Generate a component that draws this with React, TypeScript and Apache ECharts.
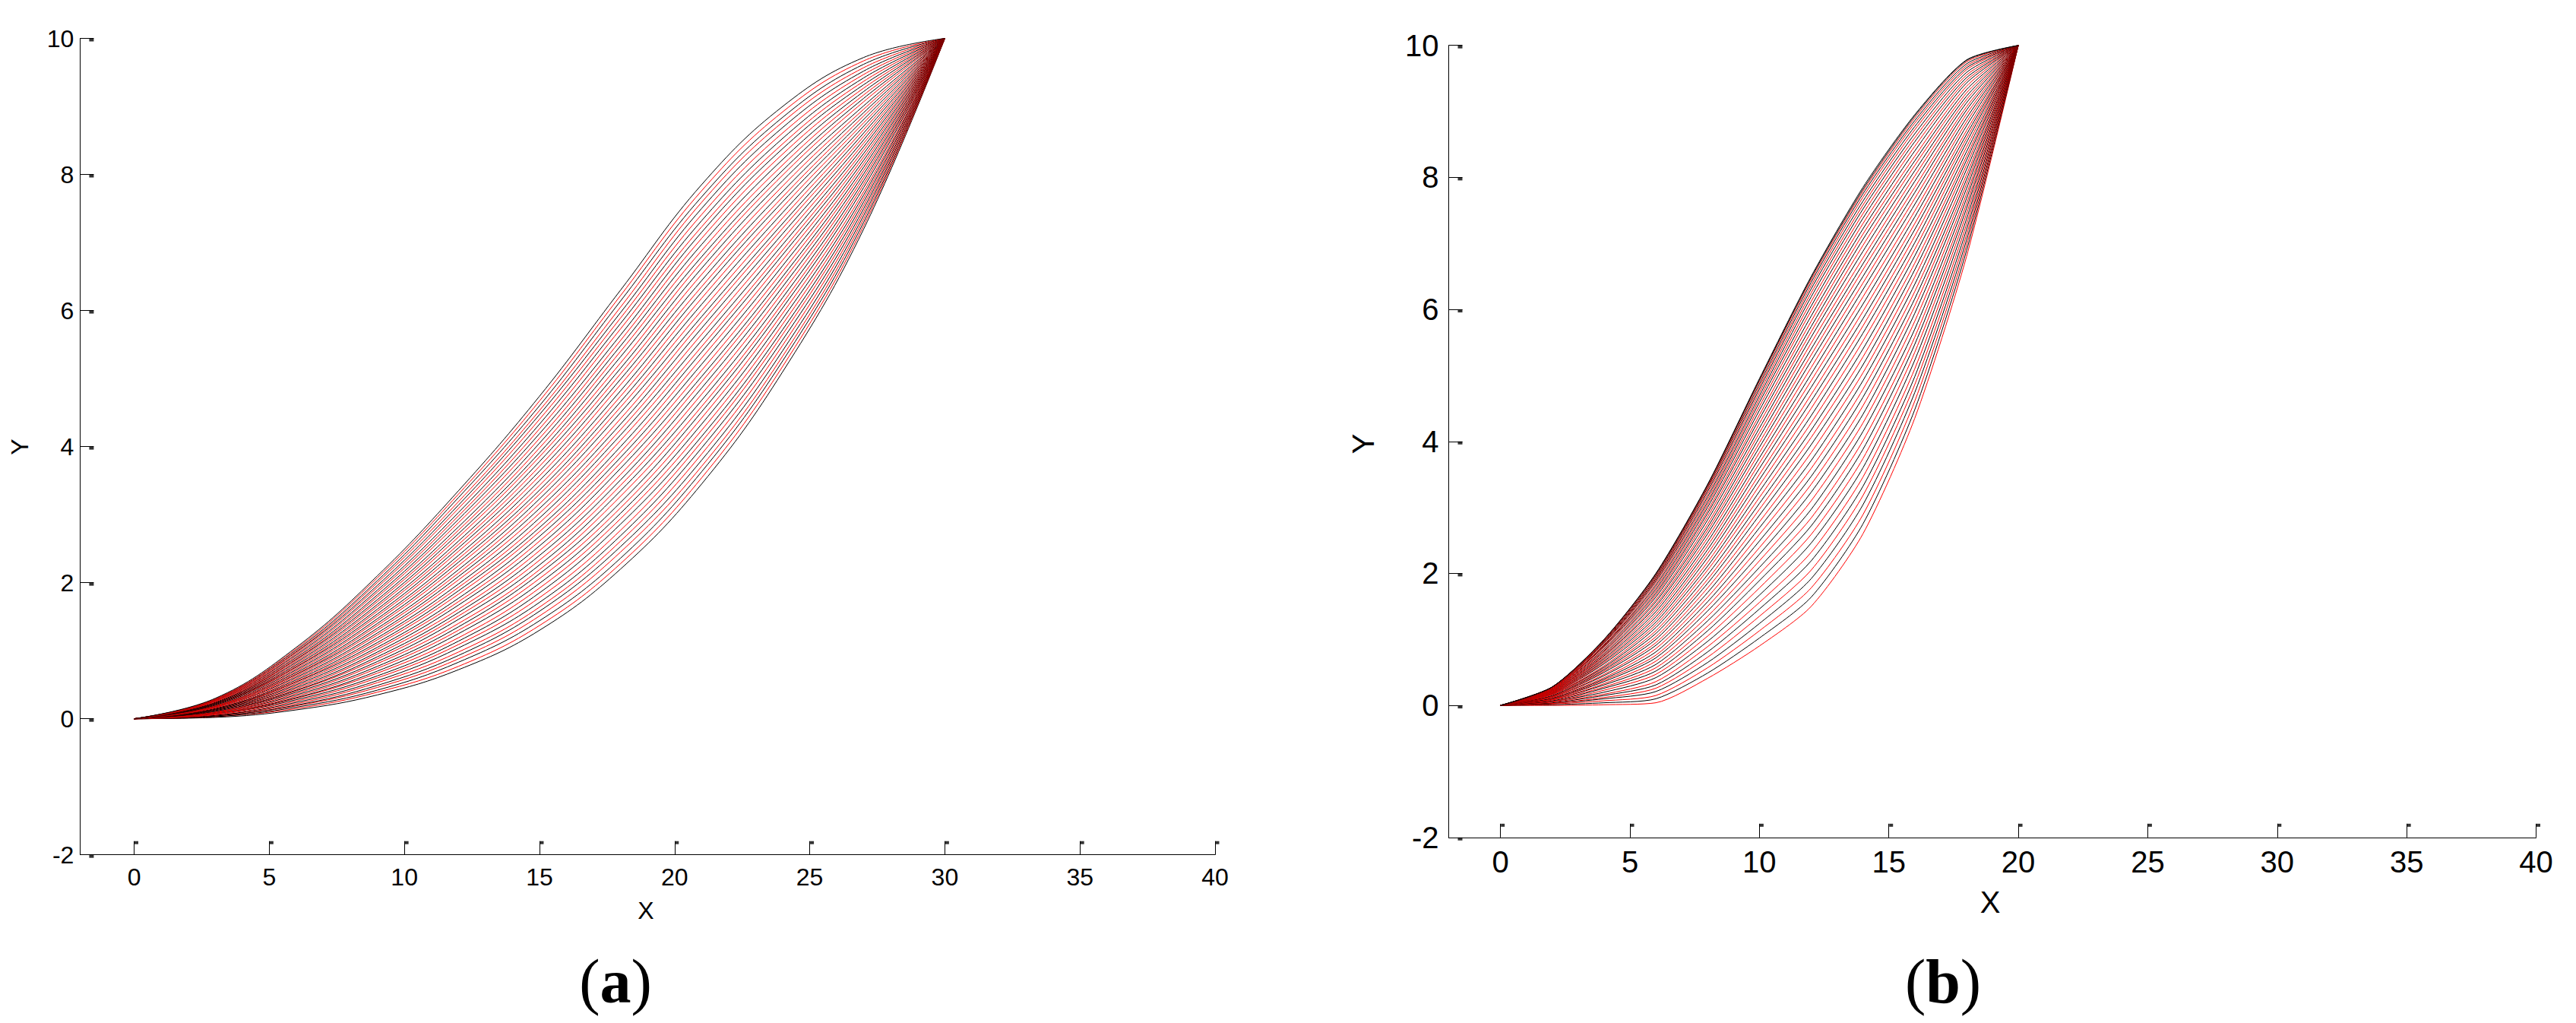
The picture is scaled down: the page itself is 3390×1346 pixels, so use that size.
import React, { useEffect, useRef } from "react";
import * as echarts from "echarts";

// ---------- data ----------
const X_TICKS = [0, 5, 10, 15, 20, 25, 30, 35, 40];
const Y_TICKS = [-2, 0, 2, 4, 6, 8, 10];

// panel (a): curves from (0,0) to (30,10), sampled at these x (lowest curve first)
const X_A = [0, 3, 6, 9, 12, 15, 18, 21, 24, 27, 30];
const CURVES_A = [
  [0, 0.02, 0.13, 0.35, 0.72, 1.30, 2.20, 3.45, 5.10, 7.20, 10],
  [0, 0.03, 0.15, 0.39, 0.77, 1.37, 2.28, 3.54, 5.18, 7.25, 10],
  [0, 0.03, 0.17, 0.42, 0.83, 1.44, 2.36, 3.63, 5.26, 7.30, 10],
  [0, 0.04, 0.19, 0.46, 0.88, 1.51, 2.45, 3.71, 5.33, 7.35, 10],
  [0, 0.04, 0.20, 0.49, 0.93, 1.58, 2.53, 3.80, 5.41, 7.40, 10],
  [0, 0.05, 0.22, 0.53, 0.98, 1.64, 2.61, 3.89, 5.49, 7.45, 10],
  [0, 0.05, 0.24, 0.56, 1.04, 1.71, 2.69, 3.98, 5.57, 7.50, 10],
  [0, 0.06, 0.26, 0.60, 1.09, 1.78, 2.77, 4.07, 5.65, 7.55, 10],
  [0, 0.07, 0.28, 0.63, 1.14, 1.85, 2.86, 4.15, 5.72, 7.60, 10],
  [0, 0.07, 0.30, 0.67, 1.19, 1.92, 2.94, 4.24, 5.80, 7.65, 10],
  [0, 0.08, 0.31, 0.70, 1.25, 1.99, 3.02, 4.33, 5.88, 7.70, 10],
  [0, 0.08, 0.33, 0.74, 1.30, 2.06, 3.10, 4.42, 5.96, 7.75, 10],
  [0, 0.09, 0.35, 0.77, 1.35, 2.13, 3.18, 4.51, 6.04, 7.81, 10],
  [0, 0.09, 0.37, 0.81, 1.40, 2.19, 3.27, 4.59, 6.11, 7.86, 10],
  [0, 0.10, 0.39, 0.84, 1.46, 2.26, 3.35, 4.68, 6.19, 7.91, 10],
  [0, 0.10, 0.41, 0.88, 1.51, 2.33, 3.43, 4.77, 6.27, 7.96, 10],
  [0, 0.11, 0.42, 0.91, 1.56, 2.40, 3.51, 4.86, 6.35, 8.01, 10],
  [0, 0.12, 0.44, 0.95, 1.61, 2.47, 3.59, 4.95, 6.43, 8.06, 10],
  [0, 0.12, 0.46, 0.98, 1.67, 2.54, 3.68, 5.03, 6.50, 8.11, 10],
  [0, 0.13, 0.48, 1.02, 1.72, 2.61, 3.76, 5.12, 6.58, 8.16, 10],
  [0, 0.13, 0.50, 1.05, 1.77, 2.68, 3.84, 5.21, 6.66, 8.21, 10],
  [0, 0.14, 0.52, 1.09, 1.83, 2.75, 3.92, 5.30, 6.74, 8.26, 10],
  [0, 0.14, 0.54, 1.12, 1.88, 2.81, 4.00, 5.39, 6.82, 8.31, 10],
  [0, 0.15, 0.55, 1.16, 1.93, 2.88, 4.09, 5.47, 6.89, 8.36, 10],
  [0, 0.15, 0.57, 1.19, 1.98, 2.95, 4.17, 5.56, 6.97, 8.41, 10],
  [0, 0.16, 0.59, 1.23, 2.04, 3.02, 4.25, 5.65, 7.05, 8.46, 10],
  [0, 0.17, 0.61, 1.26, 2.09, 3.09, 4.33, 5.74, 7.13, 8.51, 10],
  [0, 0.17, 0.63, 1.30, 2.14, 3.16, 4.41, 5.83, 7.21, 8.56, 10],
  [0, 0.18, 0.65, 1.33, 2.19, 3.23, 4.50, 5.91, 7.28, 8.61, 10],
  [0, 0.18, 0.66, 1.37, 2.25, 3.30, 4.58, 6.00, 7.36, 8.66, 10],
  [0, 0.19, 0.68, 1.40, 2.30, 3.36, 4.66, 6.09, 7.44, 8.71, 10],
  [0, 0.19, 0.70, 1.44, 2.35, 3.43, 4.74, 6.18, 7.52, 8.76, 10],
  [0, 0.20, 0.72, 1.47, 2.40, 3.50, 4.82, 6.27, 7.60, 8.81, 10],
  [0, 0.21, 0.74, 1.51, 2.46, 3.57, 4.91, 6.35, 7.67, 8.86, 10],
  [0, 0.21, 0.76, 1.54, 2.51, 3.64, 4.99, 6.44, 7.75, 8.91, 10],
  [0, 0.22, 0.77, 1.58, 2.56, 3.71, 5.07, 6.53, 7.83, 8.96, 10],
  [0, 0.22, 0.79, 1.61, 2.61, 3.78, 5.15, 6.62, 7.91, 9.01, 10],
  [0, 0.23, 0.81, 1.65, 2.67, 3.85, 5.23, 6.71, 7.99, 9.07, 10],
  [0, 0.23, 0.83, 1.68, 2.72, 3.91, 5.32, 6.79, 8.06, 9.12, 10],
  [0, 0.24, 0.85, 1.72, 2.77, 3.98, 5.40, 6.88, 8.14, 9.17, 10],
  [0, 0.24, 0.87, 1.75, 2.82, 4.05, 5.48, 6.97, 8.22, 9.22, 10],
  [0, 0.25, 0.88, 1.79, 2.88, 4.12, 5.56, 7.06, 8.30, 9.27, 10],
  [0, 0.26, 0.90, 1.82, 2.93, 4.19, 5.64, 7.15, 8.38, 9.32, 10],
  [0, 0.26, 0.92, 1.86, 2.98, 4.26, 5.73, 7.23, 8.45, 9.37, 10],
  [0, 0.27, 0.94, 1.89, 3.03, 4.33, 5.81, 7.32, 8.53, 9.42, 10],
  [0, 0.27, 0.96, 1.93, 3.09, 4.40, 5.89, 7.41, 8.61, 9.47, 10],
  [0, 0.28, 0.98, 1.96, 3.14, 4.47, 5.97, 7.50, 8.69, 9.52, 10],
  [0, 0.28, 0.99, 2.00, 3.19, 4.53, 6.05, 7.59, 8.77, 9.57, 10],
  [0, 0.29, 1.01, 2.03, 3.25, 4.60, 6.14, 7.67, 8.84, 9.62, 10],
  [0, 0.29, 1.03, 2.07, 3.30, 4.67, 6.22, 7.76, 8.92, 9.67, 10],
  [0, 0.30, 1.05, 2.10, 3.35, 4.74, 6.30, 7.85, 9.00, 9.72, 10],
];

// panel (b): curves from (0,0) to (20,10), sampled at these x (lowest curve first)
const X_B = [0, 2, 4, 6, 8, 10, 12, 14, 16, 18, 20];
const CURVES_B = [
  [0, 0.00, 0.01, 0.04, 0.41, 0.90, 1.50, 2.60, 4.35, 6.80, 10],
  [0, 0.01, 0.04, 0.10, 0.49, 1.02, 1.64, 2.75, 4.48, 6.89, 10],
  [0, 0.02, 0.07, 0.15, 0.57, 1.13, 1.78, 2.89, 4.61, 6.97, 10],
  [0, 0.03, 0.10, 0.21, 0.65, 1.24, 1.92, 3.04, 4.74, 7.05, 10],
  [0, 0.03, 0.12, 0.26, 0.73, 1.35, 2.05, 3.18, 4.86, 7.13, 10],
  [0, 0.04, 0.15, 0.31, 0.81, 1.46, 2.19, 3.32, 4.98, 7.21, 10],
  [0, 0.05, 0.17, 0.36, 0.89, 1.56, 2.32, 3.46, 5.10, 7.29, 10],
  [0, 0.06, 0.20, 0.42, 0.97, 1.67, 2.46, 3.60, 5.23, 7.37, 10],
  [0, 0.06, 0.23, 0.47, 1.05, 1.78, 2.59, 3.74, 5.35, 7.45, 10],
  [0, 0.07, 0.26, 0.52, 1.13, 1.89, 2.72, 3.88, 5.47, 7.53, 10],
  [0, 0.08, 0.28, 0.57, 1.20, 1.99, 2.84, 4.01, 5.58, 7.60, 10],
  [0, 0.09, 0.31, 0.62, 1.28, 2.09, 2.97, 4.15, 5.70, 7.68, 10],
  [0, 0.09, 0.33, 0.67, 1.35, 2.19, 3.10, 4.28, 5.82, 7.75, 10],
  [0, 0.10, 0.36, 0.72, 1.43, 2.29, 3.23, 4.41, 5.94, 7.83, 10],
  [0, 0.10, 0.38, 0.76, 1.50, 2.39, 3.35, 4.54, 6.05, 7.90, 10],
  [0, 0.11, 0.40, 0.81, 1.57, 2.49, 3.47, 4.67, 6.16, 7.97, 10],
  [0, 0.12, 0.42, 0.86, 1.64, 2.59, 3.59, 4.79, 6.27, 8.04, 10],
  [0, 0.13, 0.45, 0.91, 1.71, 2.69, 3.71, 4.92, 6.38, 8.12, 10],
  [0, 0.13, 0.47, 0.95, 1.78, 2.78, 3.83, 5.04, 6.49, 8.19, 10],
  [0, 0.14, 0.50, 1.00, 1.85, 2.88, 3.95, 5.16, 6.60, 8.26, 10],
  [0, 0.14, 0.52, 1.04, 1.91, 2.97, 4.06, 5.28, 6.70, 8.32, 10],
  [0, 0.15, 0.54, 1.09, 1.98, 3.06, 4.17, 5.40, 6.81, 8.39, 10],
  [0, 0.16, 0.56, 1.13, 2.05, 3.15, 4.28, 5.52, 6.91, 8.46, 10],
  [0, 0.17, 0.58, 1.18, 2.11, 3.24, 4.39, 5.64, 7.01, 8.53, 10],
  [0, 0.17, 0.60, 1.22, 2.17, 3.33, 4.50, 5.75, 7.11, 8.59, 10],
  [0, 0.18, 0.63, 1.26, 2.24, 3.42, 4.61, 5.86, 7.21, 8.65, 10],
  [0, 0.18, 0.65, 1.30, 2.30, 3.50, 4.71, 5.97, 7.30, 8.71, 10],
  [0, 0.19, 0.67, 1.34, 2.36, 3.59, 4.82, 6.08, 7.40, 8.78, 10],
  [0, 0.19, 0.69, 1.38, 2.42, 3.67, 4.92, 6.19, 7.49, 8.84, 10],
  [0, 0.20, 0.71, 1.42, 2.48, 3.75, 5.02, 6.30, 7.59, 8.90, 10],
  [0, 0.20, 0.73, 1.46, 2.54, 3.83, 5.12, 6.40, 7.68, 8.96, 10],
  [0, 0.21, 0.75, 1.50, 2.60, 3.91, 5.22, 6.50, 7.77, 9.02, 10],
  [0, 0.21, 0.76, 1.53, 2.65, 3.98, 5.31, 6.60, 7.85, 9.07, 10],
  [0, 0.22, 0.78, 1.57, 2.70, 4.06, 5.40, 6.69, 7.94, 9.13, 10],
  [0, 0.22, 0.80, 1.60, 2.75, 4.13, 5.49, 6.78, 8.02, 9.18, 10],
  [0, 0.23, 0.82, 1.64, 2.81, 4.20, 5.58, 6.88, 8.10, 9.23, 10],
  [0, 0.23, 0.83, 1.67, 2.86, 4.27, 5.66, 6.97, 8.18, 9.28, 10],
  [0, 0.24, 0.85, 1.70, 2.91, 4.34, 5.74, 7.06, 8.25, 9.33, 10],
  [0, 0.24, 0.87, 1.73, 2.95, 4.40, 5.82, 7.14, 8.32, 9.38, 10],
  [0, 0.25, 0.89, 1.76, 3.00, 4.47, 5.90, 7.22, 8.40, 9.43, 10],
  [0, 0.25, 0.90, 1.79, 3.04, 4.53, 5.98, 7.30, 8.47, 9.47, 10],
  [0, 0.26, 0.91, 1.82, 3.08, 4.59, 6.05, 7.38, 8.54, 9.51, 10],
  [0, 0.26, 0.92, 1.85, 3.12, 4.64, 6.12, 7.45, 8.60, 9.55, 10],
  [0, 0.27, 0.94, 1.88, 3.16, 4.69, 6.19, 7.52, 8.66, 9.59, 10],
  [0, 0.27, 0.95, 1.90, 3.20, 4.74, 6.25, 7.58, 8.72, 9.63, 10],
  [0, 0.27, 0.96, 1.92, 3.24, 4.79, 6.31, 7.64, 8.77, 9.66, 10],
  [0, 0.27, 0.97, 1.94, 3.27, 4.83, 6.36, 7.70, 8.82, 9.69, 10],
  [0, 0.28, 0.98, 1.96, 3.30, 4.87, 6.41, 7.75, 8.86, 9.72, 10],
  [0, 0.28, 0.99, 1.98, 3.32, 4.91, 6.45, 7.79, 8.90, 9.75, 10],
  [0, 0.28, 1.00, 1.99, 3.34, 4.93, 6.48, 7.82, 8.93, 9.77, 10],
  [0, 0.28, 1.00, 2.00, 3.35, 4.95, 6.50, 7.85, 8.95, 9.78, 10],
];

// ---------- styles ----------
const BLACK = "#000000";
const RED = "#ff0000";
const SANS = "'Liberation Sans Narrow', 'Arial Narrow', 'Liberation Sans', Arial, sans-serif";
const SERIF = "'Liberation Serif', 'Times New Roman', 'DejaVu Serif', serif";

const colorA = (k: number) => (k % 2 === 0 ? BLACK : RED);
const colorB = (k: number) => (k === CURVES_B.length - 1 ? BLACK : k % 2 === 0 ? RED : BLACK);

function curveSeries(xs: number[], curves: number[][], colorOf: (k: number) => string, axis: number, smooth: any) {
  return curves.map((ys, k) => ({
    type: "line",
    xAxisIndex: axis,
    yAxisIndex: axis,
    data: xs.map((x, i) => [x, ys[i]]),
    symbol: "none",
    smooth,
    lineStyle: { color: colorOf(k), width: 1 },
    silent: true,
    z: 2,
  }));
}

function flagSeries(axis: number, xMin: number, yMin: number) {
  return [
    {
      type: "scatter",
      xAxisIndex: axis,
      yAxisIndex: axis,
      data: X_TICKS.map((t) => [t, yMin]),
      symbol: "rect",
      symbolSize: [5, 4],
      symbolOffset: [3, -16],
      itemStyle: { color: BLACK },
      silent: true,
      clip: false,
      z: 5,
    },
    {
      type: "scatter",
      xAxisIndex: axis,
      yAxisIndex: axis,
      data: Y_TICKS.map((t) => [xMin, t]),
      symbol: "rect",
      symbolSize: [6, 4],
      symbolOffset: [15, 2],
      itemStyle: { color: BLACK },
      silent: true,
      clip: false,
      z: 5,
    },
  ];
}

function xAxisCfg(grid: number, fontSize: number, margin: number) {
  return {
    type: "value",
    gridIndex: grid,
    min: -2,
    max: 40,
    axisLine: { show: true, onZero: false, lineStyle: { color: BLACK, width: 1 } },
    axisTick: { show: true, inside: true, length: 18, customValues: X_TICKS, lineStyle: { color: BLACK, width: 1 } },
    axisLabel: { show: true, customValues: X_TICKS, color: BLACK, fontSize, fontFamily: SANS, margin },
    splitLine: { show: false },
  };
}

function yAxisCfg(grid: number, fontSize: number, margin: number) {
  return {
    type: "value",
    gridIndex: grid,
    min: -2,
    max: 10,
    interval: 2,
    axisLine: { show: true, onZero: false, lineStyle: { color: BLACK, width: 1 } },
    axisTick: { show: true, inside: true, length: 18, lineStyle: { color: BLACK, width: 1 } },
    axisLabel: { show: true, color: BLACK, fontSize, fontFamily: SANS, margin },
    splitLine: { show: false },
  };
}

function txt(x: number, y: number, text: string, fontSize: number, rotation = 0) {
  return {
    type: "text",
    x,
    y,
    rotation,
    silent: true,
    style: { text, fill: BLACK, fontSize, fontFamily: SANS, align: "center", verticalAlign: "middle" },
  };
}

function panelLabel(x: number, y: number, letter: string) {
  return {
    type: "text",
    x,
    y,
    silent: true,
    style: {
      text: "{p|(}{b|" + letter + "}{p|)}",
      rich: {
        p: { fontFamily: SERIF, fontSize: 82, fill: BLACK },
        b: { fontFamily: SERIF, fontSize: 82, fontWeight: "bold", fill: BLACK },
      },
      align: "center",
      verticalAlign: "middle",
    },
  };
}

export default function App() {
  const ref = useRef<HTMLDivElement>(null);

  useEffect(() => {
    if (!ref.current) return;
    const chart = echarts.init(ref.current, null, { renderer: "svg" });
    chart.setOption({
      animation: false,
      backgroundColor: "#ffffff",
      grid: [
        { left: 105.4, top: 50.5, width: 1493.6, height: 1074.2, containLabel: false },
        { left: 1906.5, top: 59.7, width: 1431, height: 1042.1, containLabel: false },
      ],
      xAxis: [xAxisCfg(0, 32, 13), xAxisCfg(1, 40, 12)],
      yAxis: [yAxisCfg(0, 32, 8), yAxisCfg(1, 40, 13)],
      series: [
        ...curveSeries(X_A, CURVES_A, colorA, 0, 0.4),
        ...curveSeries(X_B, CURVES_B, colorB, 1, 0.25),
        ...flagSeries(0, -2, -2),
        ...flagSeries(1, -2, -2),
      ],
      graphic: [
        txt(850, 1198, "X", 32),
        txt(2619, 1187, "X", 40),
        txt(26, 588, "Y", 32, Math.PI / 2),
        txt(1794, 584, "Y", 40, Math.PI / 2),
        panelLabel(810, 1291, "a"),
        panelLabel(2557, 1291, "b"),
      ],
    });
    return () => chart.dispose();
  }, []);

  return (
    <div
      ref={ref}
      style={{ position: "absolute", left: 0, top: 0, width: 3390, height: 1346, background: "#fff" }}
    />
  );
}
